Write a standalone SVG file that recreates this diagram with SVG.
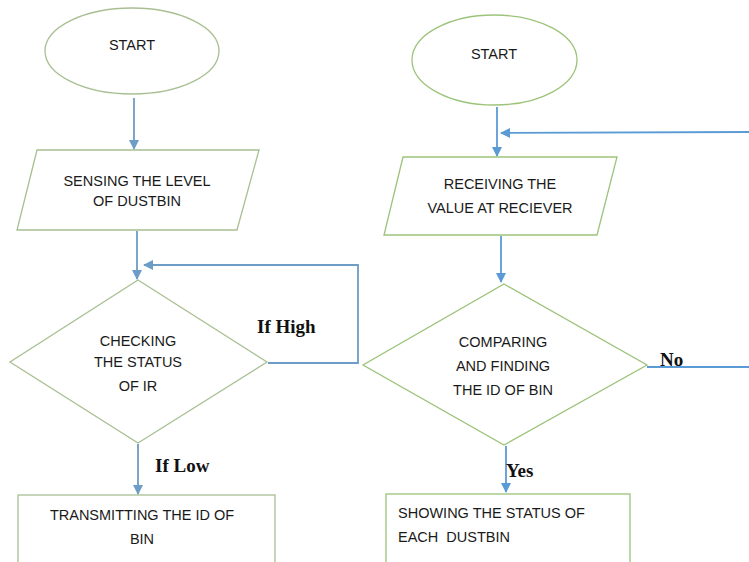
<svg xmlns="http://www.w3.org/2000/svg" width="749" height="562" viewBox="0 0 749 562">
<defs>
<style>
.shape{fill:#ffffff;stroke:#9cc37a;stroke-width:1.3}
.shapeL{fill:#ffffff;stroke:#a8bf92;stroke-width:1.3}
.t{font-family:"Liberation Sans",Arial,sans-serif;font-size:14.5px;fill:#1a1a1a;text-anchor:middle}
.tl{font-family:"Liberation Sans",Arial,sans-serif;font-size:14.5px;fill:#1a1a1a}
.lbl{font-family:"Liberation Serif","Times New Roman",serif;font-size:19px;font-weight:bold;fill:#111}
.c{fill:none;stroke:#5b9bd5;stroke-width:1.8}
.cL{fill:none;stroke:#6d9cc6;stroke-width:1.8}
</style>
<marker id="ah" markerWidth="10" markerHeight="10" refX="9" refY="5" orient="auto" markerUnits="userSpaceOnUse">
<path d="M0,0 L10,5 L0,10 Z" fill="#5b9bd5"/>
</marker>
<marker id="ahL" markerWidth="10" markerHeight="10" refX="9" refY="5" orient="auto" markerUnits="userSpaceOnUse">
<path d="M0,0 L10,5 L0,10 Z" fill="#6d9cc6"/>
</marker>
</defs>
<rect width="749" height="562" fill="#ffffff"/>
<g id="connectors">
<line class="cL" x1="134" y1="98" x2="134" y2="149" marker-end="url(#ahL)"/>
<line class="cL" x1="137" y1="231" x2="137" y2="279" marker-end="url(#ahL)"/>
<polyline class="cL" points="268,363 358,363 358,265 144,265" marker-end="url(#ahL)"/>
<line class="cL" x1="138" y1="444" x2="138" y2="494" marker-end="url(#ahL)"/>
<line class="c" x1="497" y1="107" x2="497" y2="156" marker-end="url(#ah)"/>
<line class="c" x1="749" y1="132" x2="501" y2="133" marker-end="url(#ah)"/>
<line class="c" x1="501" y1="236" x2="501" y2="282" marker-end="url(#ah)"/>
<line class="c" x1="647" y1="367" x2="749" y2="367"/>
<line class="c" x1="506" y1="446" x2="506" y2="492" marker-end="url(#ah)"/>
<text class="lbl" x="257" y="333">If High</text>
<text class="lbl" x="155" y="472">If Low</text>
<text class="lbl" x="660" y="366">No</text>
<text class="lbl" x="506" y="477">Yes</text>
</g>
<g id="start-left">
<ellipse class="shapeL" cx="132" cy="51" rx="87" ry="43"/>
<text class="t" x="132" y="50">START</text>
</g>
<g id="sensing">
<polygon class="shapeL" points="37,150 259,150 237,230 17,230"/>
<text class="t" x="137" y="186">SENSING THE LEVEL</text>
<text class="t" x="137" y="206">OF DUSTBIN</text>
</g>
<g id="checking">
<polygon class="shapeL" points="138,280 267,362 138,443 10,362"/>
<text class="t" x="138" y="346">CHECKING</text>
<text class="t" x="138" y="367">THE STATUS</text>
<text class="t" x="138" y="391">OF IR</text>
</g>
<g id="transmitting">
<rect class="shapeL" x="18" y="495" width="257" height="80"/>
<text class="t" x="142" y="520">TRANSMITTING THE ID OF</text>
<text class="t" x="142" y="544">BIN</text>
</g>
<g id="start-right">
<ellipse class="shape" cx="494.5" cy="60" rx="82.5" ry="45"/>
<text class="t" x="494" y="59">START</text>
</g>
<g id="receiving">
<polygon class="shape" points="403,157 617,157 597,235 384,235"/>
<text class="t" x="500" y="189">RECEIVING THE</text>
<text class="t" x="500" y="213">VALUE AT RECIEVER</text>
</g>
<g id="comparing">
<polygon class="shape" points="504,284 647,365 504,445 363,365"/>
<text class="t" x="503" y="347">COMPARING</text>
<text class="t" x="503" y="371">AND FINDING</text>
<text class="t" x="503" y="395">THE ID OF BIN</text>
</g>
<g id="showing">
<rect class="shape" x="386" y="494" width="244" height="80"/>
<text class="tl" x="398" y="518">SHOWING THE STATUS OF</text>
<text class="tl" x="398" y="542" xml:space="preserve">EACH  DUSTBIN</text>
</g>
</svg>
